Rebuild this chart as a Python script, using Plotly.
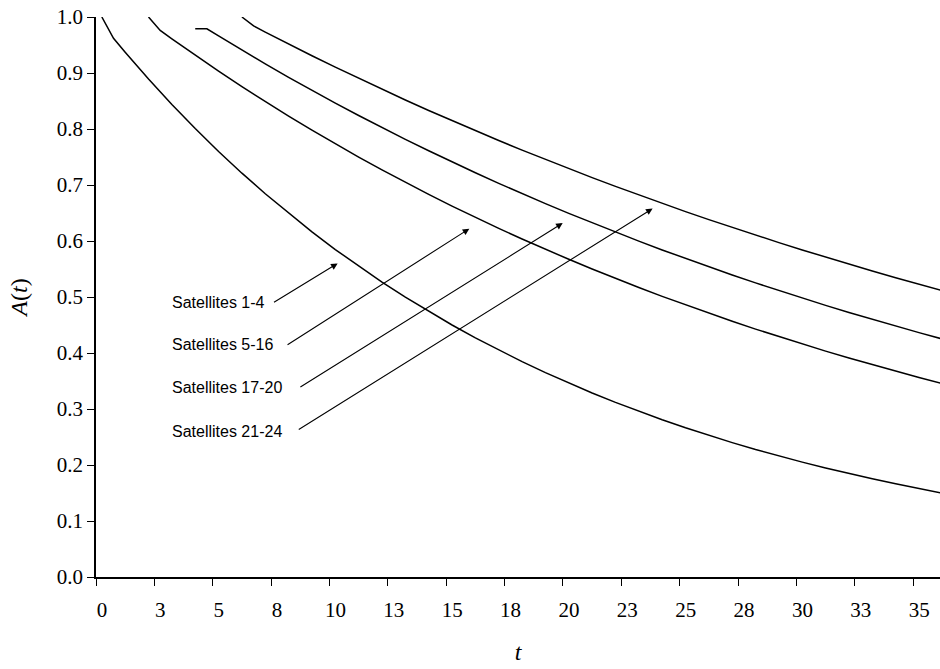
import plotly.graph_objects as go

# Time points of each satellite group (launch, half step, then whole units)
t_sat_1_4 = [0, 0.5] + list(range(1, 37))
t_sat_5_16 = [2, 2.5] + list(range(3, 37))
t_sat_17_20 = [4, 4.5] + list(range(5, 37))
t_sat_21_24 = [6, 6.5] + list(range(7, 37))

# Availability A(t) of each group
a_sat_1_4 = [1.000, 0.962, 0.9371, 0.8893, 0.8439, 0.8008, 0.7599, 0.7211, 0.6843,
             0.6494, 0.6162, 0.5847, 0.5549, 0.5266, 0.4997, 0.4742, 0.4500, 0.4270,
             0.4052, 0.3845, 0.3649, 0.3463, 0.3286, 0.3118, 0.2959, 0.2808, 0.2665,
             0.2529, 0.2400, 0.2277, 0.2161, 0.2051, 0.1946, 0.1847, 0.1753, 0.1664,
             0.1579, 0.1498]
a_sat_5_16 = [1.000, 0.976, 0.9610, 0.9317, 0.9032, 0.8756, 0.8489, 0.8230, 0.7979,
              0.7735, 0.7499, 0.7270, 0.7048, 0.6833, 0.6624, 0.6422, 0.6226, 0.6036,
              0.5852, 0.5673, 0.5500, 0.5332, 0.5169, 0.5011, 0.4858, 0.4710, 0.4566,
              0.4427, 0.4292, 0.4161, 0.4034, 0.3911, 0.3792, 0.3676, 0.3564, 0.3455]
a_sat_17_20 = [0.979, 0.979, 0.9661, 0.9408, 0.9162, 0.8922, 0.8689, 0.8462, 0.8241,
               0.8026, 0.7816, 0.7612, 0.7413, 0.7219, 0.7030, 0.6846, 0.6667, 0.6493,
               0.6323, 0.6158, 0.5997, 0.5840, 0.5687, 0.5538, 0.5393, 0.5252, 0.5115,
               0.4981, 0.4851, 0.4724, 0.4601, 0.4481, 0.4364, 0.4250]
a_sat_21_24 = [1.000, 0.984, 0.9731, 0.9517, 0.9308, 0.9104, 0.8904, 0.8709, 0.8518,
               0.8331, 0.8148, 0.7969, 0.7794, 0.7623, 0.7456, 0.7292, 0.7132, 0.6975,
               0.6822, 0.6672, 0.6525, 0.6382, 0.6242, 0.6105, 0.5971, 0.5840, 0.5712,
               0.5587, 0.5464, 0.5344, 0.5227, 0.5112]

# Category boundaries carrying the tick marks, and their rounded labels
x_tick_vals = [2.5 * k - 0.25 for k in range(15)]
x_tick_text = ["0", "3", "5", "8", "10", "13", "15", "18", "20", "23", "25", "28",
               "30", "33", "35"]

group_names = ["Satellites 1-4", "Satellites 5-16", "Satellites 17-20", "Satellites 21-24"]
group_t = [t_sat_1_4, t_sat_5_16, t_sat_17_20, t_sat_21_24]
group_a = [a_sat_1_4, a_sat_5_16, a_sat_17_20, a_sat_21_24]

# Callout label anchor (t, A) and arrow tail / tip (t, A) for each group
label_pos = [(2.90, 0.4905), (2.90, 0.4143), (2.90, 0.3380), (2.90, 0.2607)]
arrow_tail = [(7.31, 0.489), (7.89, 0.413), (8.44, 0.3375), (8.37, 0.2616)]
arrow_tip = [(10.10, 0.560), (15.74, 0.622), (19.74, 0.632), (23.59, 0.658)]

fig = go.Figure()
for name, t, a in zip(group_names, group_t, group_a):
    fig.add_trace(go.Scatter(x=t, y=a, mode="lines", name=name,
                             line=dict(color="black", width=1.5),
                             showlegend=False, hoverinfo="skip"))

annotations = []
for name, (lx, ly), (tx, ty), (hx, hy) in zip(group_names, label_pos, arrow_tail, arrow_tip):
    annotations.append(dict(x=lx, y=ly, xref="x", yref="y", text=name, showarrow=False,
                            xanchor="left", yanchor="middle",
                            font=dict(family="Liberation Sans, Arial", size=16, color="black")))
    annotations.append(dict(x=hx, y=hy, ax=tx, ay=ty, xref="x", yref="y", axref="x", ayref="y",
                            text="", showarrow=True, arrowhead=2, arrowsize=1.2,
                            arrowwidth=1.1, arrowcolor="black", standoff=0, startstandoff=0))

serif = "Liberation Serif, Times New Roman, serif"

fig.update_layout(
    width=940, height=669,
    margin=dict(l=96, r=0, t=17, b=92),
    paper_bgcolor="white", plot_bgcolor="white",
    annotations=annotations,
    xaxis=dict(
        range=[-0.25, 35.90],
        tickvals=x_tick_vals, ticktext=x_tick_text,
        ticks="outside", ticklen=7, tickwidth=1.2, tickcolor="black",
        ticklabelshift=6, ticklabelstandoff=6,
        showline=True, linecolor="black", linewidth=1.5,
        showgrid=False, zeroline=False,
        tickfont=dict(family=serif, size=21, color="black"),
        title=dict(text="<i>t</i>", font=dict(family=serif, size=24, color="black"), standoff=22),
    ),
    yaxis=dict(
        range=[0, 1],
        tickvals=[i / 10 for i in range(11)], tickformat=".1f",
        ticks="outside", ticklen=7, tickwidth=1.2, tickcolor="black",
        showline=True, linecolor="black", linewidth=1.5,
        showgrid=False, zeroline=False,
        tickfont=dict(family=serif, size=21, color="black"),
        title=dict(text="<i>A</i>(<i>t</i>)", font=dict(family=serif, size=24, color="black"),
                   standoff=22),
    ),
)

fig.write_html("out.html")
